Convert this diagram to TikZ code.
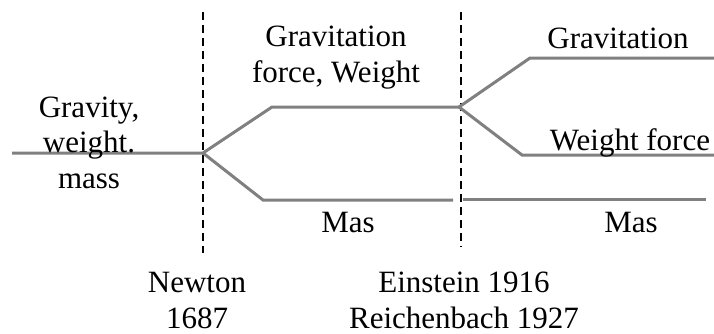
\documentclass[tikz,border=0pt]{standalone}
\usepackage{fontspec}
\setmainfont{Liberation Serif}
\begin{document}
\begin{tikzpicture}[x=1pt,y=-1pt,
  branch/.style={draw=black!50,line width=3pt},
  era/.style={draw=black,line width=2.4pt,dash pattern=on 8pt off 5pt},
  lbl/.style={inner sep=0pt,align=center,font=\fontsize{31}{35.5}\selectfont,anchor=base}]
\useasboundingbox (0,0) rectangle (714,333);
% era boundaries
\coordinate (nt) at (203,12);
\coordinate (nb) at (203,253);
\coordinate (et) at (461,12);
\coordinate (eb) at (461,247);
\draw[era] (nt) -- (nb);
\draw[era] (et) -- (eb);
% branch points
\coordinate (s) at (12,153);
\coordinate (n) at (203,153);
\coordinate (g1) at (272,107);
\coordinate (g2) at (459,107);
\coordinate (m1) at (263,200);
\coordinate (m2) at (453,200);
\coordinate (r1) at (530,58);
\coordinate (r2) at (714,58);
\coordinate (w1) at (522,155);
\coordinate (w2) at (714,155);
\coordinate (ma1) at (463,199);
\coordinate (ma2) at (706,199);
\draw[branch,line join=miter] (s) -- (n) -- (g1) -- (g2);
\draw[branch] (n) -- (m1) -- (m2);
\draw[branch] (g2) -- (r1) -- (r2);
\draw[branch] (g2) -- (w1) -- (w2);
\draw[branch] (ma1) -- (ma2);
% labels (base = baseline of the last line)
\node[lbl] (gw) at (89,188) {Gravity,\\weight.\\mass};
\node[lbl] (gf) at (336,82) {Gravitation\\force, Weight};
\node[lbl] (gr) at (618,48) {Gravitation};
\node[lbl] (wf) at (630,150) {Weight force};
\node[lbl] (mas1) at (348,232) {Mas};
\node[lbl] (mas2) at (631,232) {Mas};
\node[lbl] (nw) at (197,328) {Newton\\1687};
\node[lbl] (ei) at (464,328) {Einstein 1916\\Reichenbach 1927};
\end{tikzpicture}
\end{document}
